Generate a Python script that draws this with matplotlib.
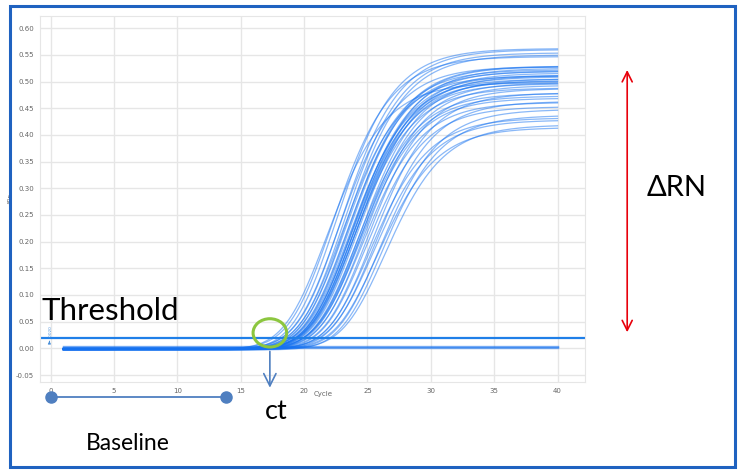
import numpy as np
import matplotlib
matplotlib.use("Agg")
import matplotlib.pyplot as plt
from matplotlib.patches import Ellipse, Rectangle

# amplification curves: cycle at half plateau and plateau level
half_cycle = [22.4, 22.8, 23.1, 23.3, 23.5, 23.6, 23.7, 23.8, 23.9, 24.0,
              24.1, 24.2, 24.2, 24.3, 24.3, 24.4, 24.4, 24.5, 24.5, 24.6,
              24.6, 24.7, 24.8, 24.8, 24.9, 25.0, 25.0, 25.1, 25.2, 25.3,
              25.5, 25.6, 25.8, 26.0, 26.1, 26.2, 26.4, 26.6, 26.8, 27.0]
plateau = [0.500, 0.548, 0.565, 0.530, 0.560, 0.512, 0.556, 0.525, 0.551, 0.521,
           0.531, 0.506, 0.528, 0.503, 0.515, 0.521, 0.498, 0.510, 0.490, 0.525,
           0.503, 0.518, 0.481, 0.512, 0.475, 0.506, 0.469, 0.500, 0.462, 0.495,
           0.456, 0.488, 0.434, 0.480, 0.428, 0.465, 0.415, 0.450, 0.440, 0.420]
baseline_shift = [-0.002, -0.001, -0.003, -0.002, 0.000, -0.001, -0.002, -0.003, -0.001, -0.002,
                  -0.002, -0.001, 0.000, -0.002, -0.003, -0.001, -0.002, -0.001, -0.002, 0.000,
                  -0.001, -0.002, -0.003, -0.001, -0.002, -0.001, 0.000, -0.002, -0.001, -0.002,
                  -0.003, -0.001, -0.002, -0.001, 0.000, -0.002, -0.001, -0.002, -0.003, -0.001]
# non-amplifying wells
negative_level = [0.0015, 0.0025, 0.003, 0.0035]

first_cycle, last_cycle = 1, 40
threshold = 0.020
ct_cycle = 17.3
baseline_start, baseline_end = 0, 13.8

# curve shape (asymmetric logistic)
S = 2.5
G = 2.8

fig = plt.figure(figsize=(7.41, 4.70), dpi=100)
ax = fig.add_axes([39.5 / 741, 1 - 382 / 470, (585 - 39.5) / 741, (382 - 16) / 470])

cyc = np.linspace(first_cycle, last_cycle, 400)
u_half = -np.log(2 ** (1 / G) - 1)
for h, p, b in zip(half_cycle, plateau, baseline_shift):
    m = h - S * u_half
    y = p * (1 + np.exp(-(cyc - m) / S)) ** (-G) + b
    ax.plot(cyc, y, color="#1672f0", alpha=0.5, lw=0.9)
for lev in negative_level:
    ax.plot([first_cycle, last_cycle], [lev, lev], color="#1672f0", alpha=0.5, lw=1.0)

ax.axhline(threshold, color="#1f7fe8", lw=1.6)

ax.set_xlim(-0.88, 42.17)
ax.set_ylim(-0.0631, 0.623)
ax.set_xticks(np.arange(0, 41, 5))
ax.set_yticks(np.arange(-0.05, 0.601, 0.05))
ax.yaxis.set_major_formatter(matplotlib.ticker.FormatStrFormatter("%.2f"))
ax.tick_params(length=0, labelsize=5, colors="#666666", pad=4)
ax.grid(True, color="#e6e6e6", lw=1)
ax.set_axisbelow(True)
for s in ax.spines.values():
    s.set_color("#e6e6e6")
ax.set_xlabel("Cycle", fontsize=5, color="#666666", labelpad=1)
ax.xaxis.set_label_coords((323 - 39.5) / (585 - 39.5), -0.025)
ax.set_ylabel("ΔRn", fontsize=4, color="#666666")
ax.yaxis.set_label_coords(-0.048, 0.5)

# threshold value tag
ax.text(0.0, threshold + 0.002, "0.020", rotation=90, fontsize=3, color="#4a8fd8",
        ha="center", va="bottom")
ax.annotate("", xy=(-0.1, threshold - 0.001), xytext=(-0.1, threshold - 0.012),
            arrowprops=dict(arrowstyle="-|>", color="#4a8fd8", lw=0.6, mutation_scale=4))

# ct marker
ax.add_patch(Ellipse((ct_cycle, threshold + 0.009), 2.65, 0.053, fill=False,
                     edgecolor="#8cc63f", lw=2.2, clip_on=False, zorder=5))
ax.annotate("", xy=(ct_cycle, -0.079), xytext=(ct_cycle, -0.0005),
            arrowprops=dict(arrowstyle="->", color="#4f7fc0", lw=1.2,
                            mutation_scale=22), annotation_clip=False)

# delta Rn arrow
ax.annotate("", xy=(45.5, 0.527), xytext=(45.5, 0.025),
            arrowprops=dict(arrowstyle="<->", color="#e8000b", lw=1.2,
                            mutation_scale=18), annotation_clip=False)

# baseline range
ax.plot([baseline_start, baseline_end], [-0.0915, -0.0915], color="#4f7fc0", lw=1.3,
        marker="o", ms=8, clip_on=False)

fam = ["Lato", "DejaVu Sans"]
fig.text(42 / 741, 1 - 320 / 470, "Threshold", fontsize=22.5, family=fam, va="baseline")
fig.text(265 / 741, 1 - 419 / 470, "ct", fontsize=19.5, family=fam, va="baseline")
fig.text(86 / 741, 1 - 450 / 470, "Baseline", fontsize=16.5, family=fam, va="baseline")
fig.text(647 / 741, 1 - 196 / 470, "ΔRN", fontsize=21, family=fam, va="baseline")

fig.patches.append(Rectangle((10 / 741, 1 - 467 / 470), 725 / 741, 461 / 470,
                             transform=fig.transFigure, fill=False,
                             edgecolor="#1f62c0", lw=2.2))

fig.savefig("out.png", dpi=100)
